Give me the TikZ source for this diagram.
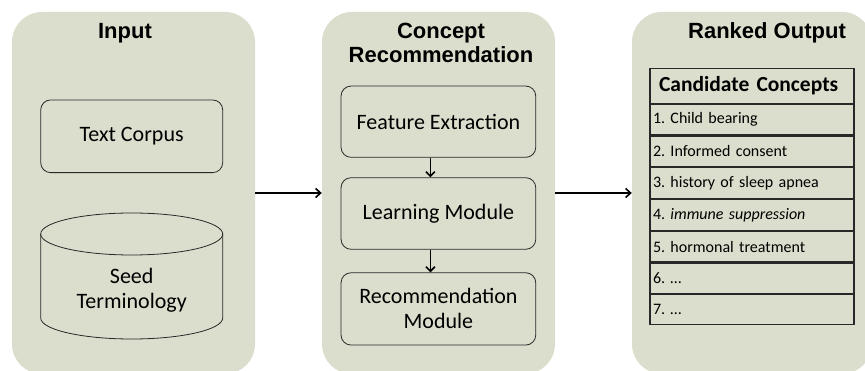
\documentclass[tikz,border=0pt]{standalone}
\usepackage{fontspec}
\setmainfont{Carlito}
\newfontfamily\titlefont{Liberation Sans}
\usetikzlibrary{arrows.meta,calc}
\frenchspacing
\definecolor{panelfill}{RGB}{219,222,204}
\definecolor{boxline}{RGB}{40,40,40}
\tikzset{
  panel/.style={fill=panelfill, draw=none, rounded corners=30pt, minimum height=362pt, inner sep=0pt},
  paneltitle/.style={font=\titlefont\bfseries\fontsize{22}{24}\selectfont, align=center, inner sep=0pt},
  stage/.style={draw=boxline, line width=0.8pt, rounded corners=10pt, align=center, inner sep=0pt,
                font=\fontsize{22}{25}\selectfont},
  bigarrow/.style={line width=1.8pt, -{Straight Barb[length=5pt,width=9pt,line width=1.6pt]}},
  smallarrow/.style={line width=1.8pt, -{Straight Barb[length=4.5pt,width=9pt,line width=1.6pt]}},
  tablecell/.style={draw=boxline, line width=1.1pt, minimum width=204pt, inner sep=0pt, anchor=north,
                    text width=198pt, align=left, font=\fontsize{16}{19}\selectfont},
}
\begin{document}
\begin{tikzpicture}[x=1pt,y=-1pt]
\useasboundingbox (0,0) rectangle (865,371);
\clip (0,0) rectangle (865,371);

% three column panels
\node[panel, minimum width=243pt] (pin)  at (133.5,193) {};
\node[panel, minimum width=233pt] (prec) at (438.5,193) {};
\node[panel, minimum width=240pt] (pout) at (752,193) {};

% panel titles
\node[paneltitle] (tin)  at (125,33) {Input};
\node[paneltitle] (trec) at (441,43) {Concept\\Recommendation};
\node[paneltitle] (tout) at (767,33) {Ranked Output};

% input column
\node[stage, minimum width=182pt, minimum height=72.7pt] (corpus) at (131.7,136.3) {Text Corpus};
\coordinate (cyltop) at (131.7,234);
\coordinate (cylbot) at (131.7,318);
\draw[boxline, line width=0.8pt]
  ($(cyltop)+(-91,0)$) -- ($(cylbot)+(-91,0)$)
  arc[start angle=180, end angle=360, x radius=91pt, y radius=21pt]
  -- ($(cyltop)+(91,0)$);
\draw[boxline, line width=0.8pt] (cyltop) ellipse[x radius=91pt, y radius=21pt];
\node[align=center, font=\fontsize{22}{25}\selectfont, inner sep=0pt] (seed) at (131.7,290) {Seed\\Terminology};

% recommendation column
\node[stage, minimum width=194.7pt, minimum height=71.3pt] (feat)  at (438.4,121.7) {Feature Extraction};
\node[stage, minimum width=194.7pt, minimum height=71.6pt] (learn) at (438.4,213.5) {Learning Module};
\node[stage, minimum width=194.7pt, minimum height=72.3pt] (recm)  at (438.4,308.9) {Recommendation\\Module};
\draw[smallarrow] ($(feat.south)+(-8,0)$) -- ($(learn.north)+(-8,0)$);
\draw[smallarrow] ($(learn.south)+(-8,0)$) -- ($(recm.north)+(-8,0)$);

% ranked output table
\node[tablecell, minimum height=34.4pt, font=\bfseries\fontsize{21.5}{25}\selectfont, text width=196pt] (head) at (752,68.3) {\hspace*{5pt}Candidate Concepts};
\node[tablecell, minimum height=30.6pt] (r1) at (head.south) {1. Child bearing};
\node[tablecell, minimum height=30.7pt] (r2) at (r1.south) {2. Informed consent};
\node[tablecell, minimum height=31pt]   (r3) at (r2.south) {3. history of sleep apnea};
\node[tablecell, minimum height=30.3pt] (r4) at (r3.south) {4. \textit{immune suppression}};
\node[tablecell, minimum height=30.7pt] (r5) at (r4.south) {5. hormonal treatment};
\node[tablecell, minimum height=30pt]   (r6) at (r5.south) {6. \dots};
\node[tablecell, minimum height=30.7pt] (r7) at (r6.south) {7. \dots};

% flow between columns
\draw[bigarrow] (pin.east) -- (prec.west);
\draw[bigarrow] (prec.east) -- (pout.west);
\end{tikzpicture}
\end{document}
